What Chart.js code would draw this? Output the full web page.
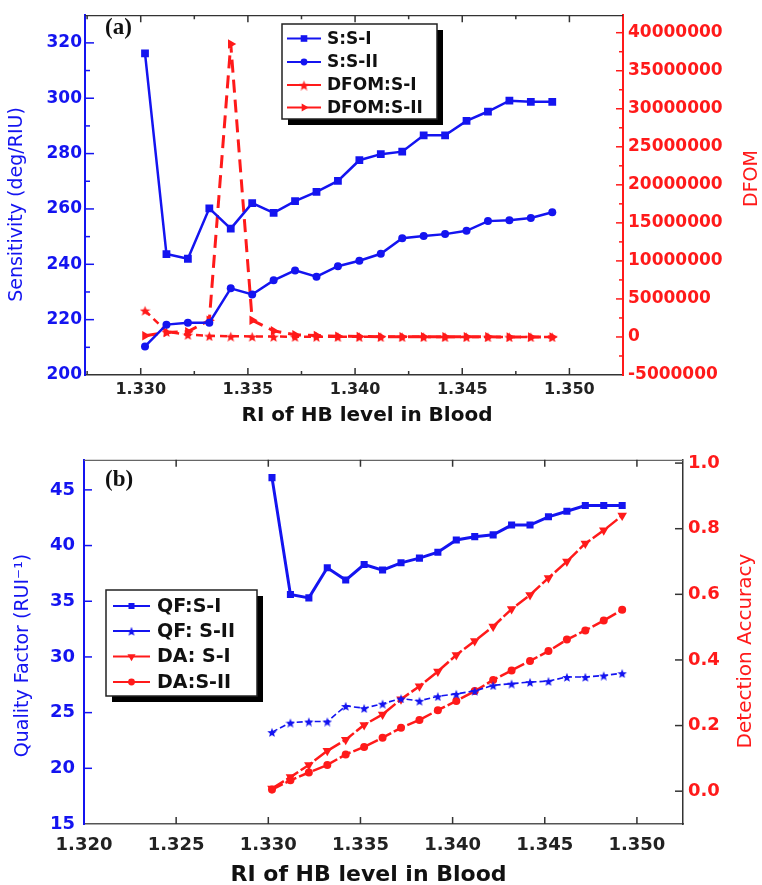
<!DOCTYPE html>
<html><head><meta charset="utf-8">
<script src="https://cdn.jsdelivr.net/npm/chart.js@4.4.1/dist/chart.umd.min.js"></script>
<style>
html,body{margin:0;padding:0;background:#fff;}
#wrap{position:relative;width:762px;height:885px;overflow:hidden;background:#fff;}
#c1{position:absolute;left:0;top:0;}
#c2{position:absolute;left:0;top:440px;}
</style></head><body>
<div id="wrap"><canvas id="c1" width="762" height="440"></canvas><canvas id="c2" width="762" height="445"></canvas></div>
<script>
// ---------- data ----------
const riLevels = [1.3302,1.3312,1.3322,1.3332,1.3342,1.3352,1.3362,1.3372,1.3382,1.3392,1.3402,1.3412,1.3422,1.3432,1.3442,1.3452,1.3462,1.3472,1.3482,1.3492];
const sensSI  = [316.2,243.7,242.0,260.2,252.9,262.1,258.6,262.8,266.2,270.1,277.6,279.8,280.7,286.6,286.6,291.8,295.2,299.1,298.7,298.7];
const sensSII = [210.3,218.2,218.9,218.9,231.3,229.1,234.2,237.8,235.5,239.3,241.3,243.8,249.4,250.2,250.9,252.1,255.6,255.9,256.7,258.8];
const dfomSI  = [3500000,700000,300000,150000,100000,70000,50000,40000,30000,25000,20000,18000,15000,12000,10000,9000,8000,7000,6000,5000];
const dfomSII = [150000,600000,700000,2200000,38500000,2200000,800000,300000,180000,100000,60000,40000,30000,25000,20000,15000,12000,10000,8000,6000];
const qfSI  = [46.1,35.6,35.3,38.0,36.9,38.3,37.8,38.45,38.87,39.4,40.5,40.8,40.96,41.84,41.84,42.58,43.08,43.6,43.6,43.6];
const qfSII = [23.25,24.1,24.2,24.2,25.6,25.4,25.8,26.27,26.06,26.47,26.68,26.95,27.45,27.6,27.74,27.83,28.2,28.2,28.33,28.54];
const daSI  = [0.008,0.043,0.08,0.123,0.157,0.202,0.234,0.28,0.32,0.365,0.415,0.458,0.502,0.555,0.598,0.65,0.70,0.755,0.795,0.84];
const daSII = [0.005,0.033,0.057,0.08,0.112,0.135,0.163,0.193,0.217,0.247,0.275,0.305,0.339,0.368,0.397,0.427,0.462,0.49,0.52,0.553];

const topXTicks = [1.330,1.335,1.340,1.345,1.350];
const sensTicks = [200,220,240,260,280,300,320];
const dfomTicks = [-5000000,0,5000000,10000000,15000000,20000000,25000000,30000000,35000000,40000000];
const botXTicks = [1.320,1.325,1.330,1.335,1.340,1.345,1.350];
const qfTicks = [15,20,25,30,35,40,45];
const daTicks = [0.0,0.2,0.4,0.6,0.8,1.0];

// ---------- styling ----------
const BLUE = '#1414f0', RED = '#ff1a1a', DARK = '#333';
const FAM = 'DejaVu Sans';
const pts = (xs, ys) => xs.map((x, i) => ({x, y: ys[i]}));
const mids = (arr) => arr.slice(0, -1).map((v, i) => (v + arr[i + 1]) / 2);
const setTicks = (vals) => (s) => { s.ticks = vals.map(v => ({value: v})); };

function makeStar(size, color) {
  const c = document.createElement('canvas'); c.width = c.height = size;
  const g = c.getContext('2d'); const R = size / 2, r = R * 0.42;
  g.beginPath();
  for (let i = 0; i < 10; i++) {
    const a = -Math.PI / 2 + i * Math.PI / 5, rad = i % 2 ? r : R;
    g.lineTo(R + rad * Math.cos(a), R + 0.08 * size + rad * Math.sin(a));
  }
  g.closePath(); g.fillStyle = color; g.fill();
  return c;
}
const starRed = makeStar(11, RED);
const starBlue = makeStar(10, BLUE);

function mark(ctx, style, rot, r, x, y, color) {
  ctx.save(); ctx.translate(x, y); ctx.rotate((rot || 0) * Math.PI / 180);
  ctx.fillStyle = color;
  if (style instanceof HTMLCanvasElement) { ctx.drawImage(style, -style.width / 2, -style.height / 2); ctx.restore(); return; }
  ctx.beginPath();
  if (style === 'rect') { const s = r * Math.SQRT1_2; ctx.rect(-s, -s, 2 * s, 2 * s); }
  else if (style === 'circle') { ctx.arc(0, 0, r, 0, Math.PI * 2); }
  else if (style === 'triangle') { ctx.moveTo(0, -r); ctx.lineTo(r * 0.866, r * 0.5); ctx.lineTo(-r * 0.866, r * 0.5); }
  ctx.closePath(); ctx.fill(); ctx.restore();
}

function makeDecor(cfg) {
  return {
    id: 'decor',
    afterDraw(chart) {
      const ctx = chart.ctx, a = chart.chartArea;
      ctx.save();
      // top frame line
      ctx.strokeStyle = cfg.frameTop; ctx.lineWidth = 1.2;
      ctx.beginPath(); ctx.moveTo(a.left, a.top + 0.5); ctx.lineTo(a.right, a.top + 0.5); ctx.stroke();
      // inward ticks
      cfg.ticks.forEach(t => {
        const s = chart.scales[t.axis];
        ctx.strokeStyle = t.color; ctx.lineWidth = t.width || 1.5;
        t.values.forEach(v => {
          if (v <= s.min || v >= s.max) return;
          const p = s.getPixelForValue(v);
          ctx.beginPath();
          if (t.axis === 'x') {
            ctx.moveTo(p, a.bottom); ctx.lineTo(p, a.bottom - t.len);
            if (t.both) { ctx.moveTo(p, a.top); ctx.lineTo(p, a.top + t.len); }
          } else if (t.axis === 'y') { ctx.moveTo(a.left, p); ctx.lineTo(a.left + t.len, p); }
          else { ctx.moveTo(a.right, p); ctx.lineTo(a.right - t.len, p); }
          ctx.stroke();
        });
      });
      // titles
      cfg.titles.forEach(t => {
        ctx.save(); ctx.translate(t.x, t.y); ctx.rotate((t.rot || 0) * Math.PI / 180);
        ctx.font = t.font; ctx.fillStyle = t.color;
        ctx.textAlign = t.align || 'center'; ctx.textBaseline = t.baseline || 'middle';
        ctx.fillText(t.text, 0, 0); ctx.restore();
      });
      // legend
      const L = cfg.legend;
      ctx.fillStyle = '#000';
      ctx.fillRect(L.x + L.shadow, L.y + L.shadow, L.w, L.h);
      ctx.fillStyle = '#fff'; ctx.fillRect(L.x, L.y, L.w, L.h);
      ctx.strokeStyle = '#222'; ctx.lineWidth = 1.5; ctx.strokeRect(L.x, L.y, L.w, L.h);
      chart.data.datasets.forEach((ds, i) => {
        const y = L.rows[i];
        ctx.strokeStyle = ds.borderColor; ctx.lineWidth = 2; ctx.setLineDash([]);
        ctx.beginPath(); ctx.moveTo(L.x0, y); ctx.lineTo(L.x1, y); ctx.stroke();
        mark(ctx, ds.pointStyle, ds.pointRotation, ds.pointRadius * 0.85, (L.x0 + L.x1) / 2, y, ds.borderColor);
        ctx.fillStyle = '#111'; ctx.font = L.font; ctx.textAlign = 'left'; ctx.textBaseline = 'middle';
        ctx.fillText(ds.label, L.tx, y + 1);
      });
      ctx.restore();
    }
  };
}

Chart.defaults.font.family = FAM;

// ---------- chart (a) ----------
new Chart(document.getElementById('c1'), {
  type: 'line',
  data: {
    datasets: [
      {label: 'S:S-I', data: pts(riLevels, sensSI), yAxisID: 'y', borderColor: BLUE, backgroundColor: BLUE, borderWidth: 2.5, pointStyle: 'rect', pointRadius: 5.5, pointBorderWidth: 0},
      {label: 'S:S-II', data: pts(riLevels, sensSII), yAxisID: 'y', borderColor: BLUE, backgroundColor: BLUE, borderWidth: 2.5, pointStyle: 'circle', pointRadius: 4, pointBorderWidth: 0},
      {label: 'DFOM:S-I', data: pts(riLevels, dfomSI), yAxisID: 'y2', borderColor: RED, backgroundColor: RED, borderWidth: 2.5, borderDash: [7, 5], pointStyle: starRed, pointRadius: 5, pointBorderWidth: 0},
      {label: 'DFOM:S-II', data: pts(riLevels, dfomSII), yAxisID: 'y2', borderColor: RED, backgroundColor: RED, borderWidth: 3, borderDash: [13, 7], pointStyle: 'triangle', pointRotation: 90, pointRadius: 5.5, pointBorderWidth: 0}
    ]
  },
  options: {
    responsive: false, animation: false, events: [],
    layout: {padding: {top: 8, left: 0, right: 0, bottom: 0}},
    plugins: {legend: {display: false}, tooltip: {enabled: false}},
    scales: {
      x: {type: 'linear', min: 1.3274, max: 1.3525, position: 'bottom',
          afterBuildTicks: setTicks(topXTicks), afterFit: s => { s.height = 65; },
          grid: {display: false, drawTicks: false}, border: {color: DARK, width: 1.5},
          ticks: {color: '#222', padding: 5, font: {size: 16, weight: 'bold'}, callback: v => v.toFixed(3), maxRotation: 0}},
      y: {type: 'linear', min: 200, max: 330, position: 'left',
          afterBuildTicks: setTicks(sensTicks), afterFit: s => { s.width = 85; },
          grid: {display: false, drawTicks: false}, border: {color: BLUE, width: 2},
          ticks: {color: BLUE, padding: 3, font: {size: 17, weight: 'bold'}}},
      y2: {type: 'linear', min: -5000000, max: 42300000, position: 'right',
          afterBuildTicks: setTicks(dfomTicks), afterFit: s => { s.width = 139; },
          grid: {display: false, drawTicks: false}, border: {color: RED, width: 2},
          ticks: {color: RED, padding: 5, font: {size: 17, weight: 'bold'}, callback: v => String(Math.round(v))}}
    }
  },
  plugins: [makeDecor({
    frameTop: DARK,
    ticks: [
      {axis: 'x', values: topXTicks, len: 7, color: DARK, both: true},
      {axis: 'x', values: mids([1.325].concat(topXTicks)), len: 4, color: DARK, both: true},
      {axis: 'y', values: sensTicks, len: 9, color: BLUE},
      {axis: 'y', values: mids(sensTicks.concat([340])), len: 5, color: BLUE},
      {axis: 'y2', values: dfomTicks, len: 7, color: RED},
      {axis: 'y2', values: mids(dfomTicks.concat([45000000])), len: 4, color: RED}
    ],
    titles: [
      {text: 'Sensitivity (deg/RIU)', x: 17.5, y: 204.5, rot: -90, font: '19px ' + FAM, color: BLUE},
      {text: 'DFOM', x: 752, y: 178.5, rot: -90, font: '19px ' + FAM, color: RED},
      {text: 'RI of HB level in Blood', x: 367, y: 421, font: 'bold 20px ' + FAM, color: '#111', baseline: 'alphabetic'},
      {text: '(a)', x: 105, y: 34, font: 'bold 23px "Liberation Serif"', color: '#111', align: 'left', baseline: 'alphabetic'}
    ],
    legend: {x: 282, y: 24, w: 155, h: 95, shadow: 6, rows: [38.5, 62, 85, 107.5], x0: 287, x1: 321, tx: 327, font: 'bold 17px ' + FAM}
  })]
});

// ---------- chart (b) ----------
new Chart(document.getElementById('c2'), {
  type: 'line',
  data: {
    datasets: [
      {label: 'QF:S-I', data: pts(riLevels, qfSI), yAxisID: 'y', borderColor: BLUE, backgroundColor: BLUE, borderWidth: 3, pointStyle: 'rect', pointRadius: 5, pointBorderWidth: 0},
      {label: 'QF: S-II', data: pts(riLevels, qfSII), yAxisID: 'y', borderColor: BLUE, backgroundColor: BLUE, borderWidth: 1.6, borderDash: [6, 3], pointStyle: starBlue, pointRadius: 5, pointBorderWidth: 0},
      {label: 'DA: S-I', data: pts(riLevels, daSI), yAxisID: 'y2', borderColor: RED, backgroundColor: RED, borderWidth: 2.5, borderDash: [14, 3], pointStyle: 'triangle', pointRotation: 180, pointRadius: 5.5, pointBorderWidth: 0},
      {label: 'DA:S-II', data: pts(riLevels, daSII), yAxisID: 'y2', borderColor: RED, backgroundColor: RED, borderWidth: 2.5, borderDash: [12, 3], pointStyle: 'circle', pointRadius: 4, pointBorderWidth: 0}
    ]
  },
  options: {
    responsive: false, animation: false, events: [],
    layout: {padding: {top: 15, left: 0, right: 0, bottom: 0}},
    plugins: {legend: {display: false}, tooltip: {enabled: false}},
    scales: {
      x: {type: 'linear', min: 1.320, max: 1.3525, position: 'bottom',
          afterBuildTicks: setTicks(botXTicks), afterFit: s => { s.height = 61; },
          grid: {display: false, drawTicks: false}, border: {color: '#555', width: 1.5},
          ticks: {color: '#222', padding: 11, font: {size: 18, weight: 'bold'}, callback: v => v.toFixed(3), maxRotation: 0}},
      y: {type: 'linear', min: 15, max: 47.7, position: 'left',
          afterBuildTicks: setTicks(qfTicks), afterFit: s => { s.width = 84; },
          grid: {display: false, drawTicks: false}, border: {color: BLUE, width: 2},
          ticks: {color: BLUE, padding: 9, font: {size: 18, weight: 'bold'}}},
      y2: {type: 'linear', min: -0.1, max: 1.01, position: 'right',
          afterBuildTicks: setTicks(daTicks), afterFit: s => { s.width = 79; },
          grid: {display: false, drawTicks: false}, border: {color: DARK, width: 1.5},
          ticks: {color: RED, padding: 5, font: {size: 18, weight: 'bold'}, callback: v => v.toFixed(1)}}
    }
  },
  plugins: [makeDecor({
    frameTop: '#666',
    ticks: [
      {axis: 'x', values: botXTicks, len: 7, color: DARK, both: true},
      {axis: 'y', values: qfTicks, len: 8, color: BLUE},
      {axis: 'y2', values: daTicks, len: 8, color: DARK}
    ],
    titles: [
      {text: 'Quality Factor (RUI\u207B\u00B9)', x: 23, y: 215.5, rot: -90, font: '19px ' + FAM, color: BLUE},
      {text: 'Detection Accuracy', x: 746, y: 211, rot: -90, font: '20px ' + FAM, color: RED},
      {text: 'RI of HB level in Blood', x: 368.5, y: 441, font: 'bold 22px ' + FAM, color: '#111', baseline: 'alphabetic'},
      {text: '(b)', x: 105, y: 46, font: 'bold 23px "Liberation Serif"', color: '#111', align: 'left', baseline: 'alphabetic'}
    ],
    legend: {x: 106, y: 150, w: 151, h: 106, shadow: 6, rows: [166, 191, 216.5, 242], x0: 113, x1: 150, tx: 157, font: 'bold 19px ' + FAM}
  })]
});
</script>
</body></html>
